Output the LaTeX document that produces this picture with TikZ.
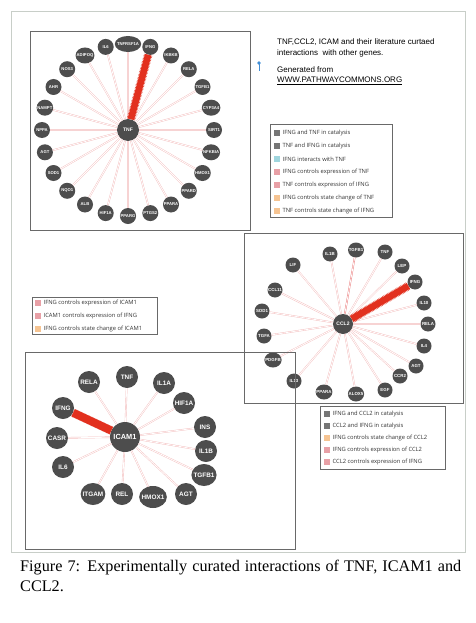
\documentclass[tikz,border=0pt]{standalone}
\usepackage{fontspec}
\setmainfont{Liberation Serif}
\setsansfont{Liberation Sans}
\newfontfamily\legendfont{Open Sans}
\usetikzlibrary{positioning,shapes.geometric}
\definecolor{nodegray}{RGB}{77,77,77}
\definecolor{linkpink}{RGB}{244,188,188}
\definecolor{linkred}{RGB}{234,118,118}
\definecolor{bandred}{RGB}{226,48,30}
\definecolor{boxgray}{RGB}{105,105,105}
\definecolor{catgray}{RGB}{118,118,118}
\definecolor{intcyan}{RGB}{160,214,222}
\definecolor{exppink}{RGB}{232,160,166}
\definecolor{stateorange}{RGB}{246,196,146}
\definecolor{pinblue}{RGB}{66,142,214}
\definecolor{framegray}{RGB}{200,206,200}

\begin{document}
\begin{tikzpicture}[x=1pt, y=-1pt,
    gene/.style={ellipse, fill=nodegray, text=white, inner xsep=-1.6pt, inner ysep=0.3pt,
                 minimum width=#1, minimum height=#1},
    genet/.style={gene=16pt, font=\sffamily\bfseries\fontsize{4.2}{4.2}\selectfont},
    genec/.style={gene=15pt, font=\sffamily\bfseries\fontsize{4.4}{4.4}\selectfont},
    genei/.style={gene=22pt, font=\sffamily\bfseries\fontsize{6.4}{6.4}\selectfont},
    link/.style={draw=linkpink, line width=0.4pt, double=white, double distance=0.8pt},
    band/.style={draw=bandred, line width=6.5pt,
                 preaction={draw=bandred!85, line width=8.5pt, dash pattern=on 0.6pt off 0.9pt}},
    panel/.style={draw=boxgray, line width=1pt},
    legbox/.style={draw=boxgray, line width=0.6pt},
    swatch/.style={rectangle, fill=#1, minimum size=5.5pt, inner sep=0pt},
    legtext/.style={font=\legendfont\fontsize{5.8}{6}\selectfont, text=black!80, inner sep=0pt, anchor=west},
    toptext/.style={font=\sffamily\fontsize{8}{9}\selectfont, anchor=west, inner sep=0pt}]

\fill[white] (0,0) rectangle (475,623);
\useasboundingbox (0,0) rectangle (475,623);
\draw[framegray, line width=0.6pt] (11,11) rectangle (465,552);

% TNF network
\draw[panel] (30,32) rectangle (250,230);
\node[gene=22pt, font=\sffamily\bfseries\fontsize{5}{5}\selectfont] (tnf) at (128,130) {TNF};
\node[genet] (il6t) at (105.7,46.9) {IL6};
\node[genet] (tnfrt) at (128,44) {TNFRSF1A};
\node[genet] (ifngt) at (150.3,46.9) {IFNG};
\node[genet] (ikbkb) at (171,55.5) {IKBKB};
\node[genet] (relat) at (188.8,69.2) {RELA};
\node[genet] (tgfbt) at (202.5,87) {TGFB1};
\node[genet] (cyp) at (211.1,107.7) {CYP3A4};
\node[genet] (sirt) at (214,130) {SIRT1};
\node[genet] (nfkb) at (211.1,152.3) {NFKBIA};
\node[genet] (hmoxt) at (202.5,173) {HMOX1};
\node[genet] (ppard) at (188.8,190.8) {PPARD};
\node[genet] (ppart) at (171,204.5) {PPARA};
\node[genet] (ptgs) at (150.3,213.1) {PTGS2};
\node[genet] (pparg) at (128,216) {PPARG};
\node[genet] (hift) at (105.7,213.1) {HIF1A};
\node[genet] (alb) at (85,204.5) {ALB};
\node[genet] (nqo) at (67.2,190.8) {NQO1};
\node[genet] (sodt) at (53.5,173) {SOD1};
\node[genet] (agtt) at (44.9,152.3) {AGT};
\node[genet] (nppa) at (42,130) {NPPA};
\node[genet] (nampt) at (44.9,107.7) {NAMPT};
\node[genet] (ahr) at (53.5,87) {AHR};
\node[genet] (nos) at (67.2,69.2) {NOS3};
\node[genet] (adipoq) at (85,55.5) {ADIPOQ};

\draw[link] (tnf) -- (il6t) (tnf) -- (tnfrt) (tnf) -- (ikbkb) (tnf) -- (relat) (tnf) -- (tgfbt) (tnf) -- (cyp);
\draw[link] (tnf) -- (sirt) (tnf) -- (nfkb) (tnf) -- (hmoxt) (tnf) -- (ppard) (tnf) -- (ppart) (tnf) -- (ptgs);
\draw[link] (tnf) -- (pparg) (tnf) -- (hift) (tnf) -- (alb) (tnf) -- (nqo) (tnf) -- (sodt) (tnf) -- (agtt);
\draw[link] (tnf) -- (nppa) (tnf) -- (nampt) (tnf) -- (ahr) (tnf) -- (nos) (tnf) -- (adipoq);
\draw[band] (tnf) -- (ifngt);

% note and pin
\node[toptext] (title1) at (277,42) {TNF,CCL2, ICAM and their literature curtaed};
\node[toptext] (title2) at (277,53) {interactions~ with other genes.};
\node[toptext] (src1) at (277,70) {Generated from};
\node[toptext] (src2) at (277,81) {\underline{WWW.PATHWAYCOMMONS.ORG}};
\draw[pinblue, line width=0.8pt] (259,64) -- (259,71);
\fill[pinblue] (259,63) circle (1.8pt);

% TNF legend
\draw[legbox] (270,124) rectangle (392,217);
\node[swatch=catgray] (sw1) at (277,133) {};
\node[swatch=catgray] (sw2) at (277,146) {};
\node[swatch=intcyan] (sw3) at (277,159) {};
\node[swatch=exppink] (sw4) at (277,172) {};
\node[swatch=exppink] (sw5) at (277,185) {};
\node[swatch=stateorange] (sw6) at (277,198) {};
\node[swatch=stateorange] (sw7) at (277,211) {};
\node[legtext, right=2.5pt of sw1] (lg1) {IFNG and TNF in catalysis};
\node[legtext, right=2.5pt of sw2] (lg2) {TNF and IFNG in catalysis};
\node[legtext, right=2.5pt of sw3] (lg3) {IFNG interacts with TNF};
\node[legtext, right=2.5pt of sw4] (lg4) {IFNG controls expression of TNF};
\node[legtext, right=2.5pt of sw5] (lg5) {TNF controls expression of IFNG};
\node[legtext, right=2.5pt of sw6] (lg6) {IFNG controls state change of TNF};
\node[legtext, right=2.5pt of sw7] (lg7) {TNF controls state change of IFNG};

% CCL2 network
\draw[panel] (244,233) rectangle (463,403);
\node[gene=20pt, font=\sffamily\bfseries\fontsize{5}{5}\selectfont] (ccl) at (343,324) {CCL2};
\node[genec] (lifc) at (293,265) {LIF};
\node[genec] (ccl11) at (275,290) {CCL11};
\node[genec] (il1bc) at (330,254) {IL1B};
\node[genec] (tgfbc) at (356,250) {TGFB1};
\node[genec] (tnfc) at (385,252) {TNF};
\node[genec] (lepc) at (402,266) {LEP};
\node[genec] (ifngc) at (415,282) {IFNG};
\node[genec] (il10c) at (424,303) {IL10};
\node[genec] (relac) at (428,324) {RELA};
\node[genec] (il4c) at (424,346) {IL4};
\node[genec] (agtc) at (416,366) {AGT};
\node[genec] (ccr2) at (400,376) {CCR2};
\node[genec] (egf) at (385,390) {EGF};
\node[genec] (alox) at (356,394) {ALOX5};
\node[genec] (pparc) at (324,392) {PPARA};
\node[genec] (il13) at (294,381) {IL13};
\node[genec] (pdgfb) at (273,360) {PDGFB};
\node[genec] (tgfa) at (264,336) {TGFA};
\node[genec] (sodc) at (262,311) {SOD1};

\draw[link] (ccl) -- (lifc) (ccl) -- (ccl11) (ccl) -- (il1bc) (ccl) -- (tnfc) (ccl) -- (lepc) (ccl) -- (il10c);
\draw[link] (ccl) -- (relac) (ccl) -- (il4c) (ccl) -- (agtc) (ccl) -- (ccr2) (ccl) -- (egf) (ccl) -- (alox);
\draw[link] (ccl) -- (pparc) (ccl) -- (il13) (ccl) -- (pdgfb) (ccl) -- (tgfa) (ccl) -- (sodc);
\draw[link, draw=linkred] (ccl) -- (tgfbc);
\draw[band] (ccl) -- (ifngc);

% ICAM1 legend
\draw[legbox] (32,297) rectangle (157,334);
\node[swatch=exppink] (swa) at (38,303) {};
\node[swatch=exppink] (swb) at (38,316) {};
\node[swatch=stateorange] (swc) at (38,329) {};
\node[legtext, right=2.5pt of swa] (lga) {IFNG controls expression of ICAM1};
\node[legtext, right=2.5pt of swb] (lgb) {ICAM1 controls expression of IFNG};
\node[legtext, right=2.5pt of swc] (lgc) {IFNG controls state change of ICAM1};

% ICAM1 network
\draw[panel] (25,352) rectangle (295,549);
\node[gene=30pt, font=\sffamily\bfseries\fontsize{7.4}{7.4}\selectfont] (icam) at (125,437) {ICAM1};
\node[genei] (relai) at (89,382) {RELA};
\node[genei] (tnfi) at (127,377) {TNF};
\node[genei] (il1a) at (164,383) {IL1A};
\node[genei] (hifi) at (184,403) {HIF1A};
\node[genei] (ins) at (205,427) {INS};
\node[genei] (il1bi) at (206,451) {IL1B};
\node[genei] (tgfbi) at (204,475) {TGFB1};
\node[genei] (agti) at (186,494) {AGT};
\node[genei] (hmoxi) at (153,497) {HMOX1};
\node[genei] (rel) at (122,494) {REL};
\node[genei] (itgam) at (93,494) {ITGAM};
\node[genei] (il6i) at (63,467) {IL6};
\node[genei] (casr) at (57,438) {CASR};
\node[genei] (ifngi) at (63,408) {IFNG};

\draw[link] (icam) -- (relai) (icam) -- (tnfi) (icam) -- (il1a) (icam) -- (hifi) (icam) -- (ins) (icam) -- (il1bi) (icam) -- (tgfbi);
\draw[link] (icam) -- (agti) (icam) -- (hmoxi) (icam) -- (rel) (icam) -- (itgam) (icam) -- (il6i) (icam) -- (casr);
\draw[band, line width=8pt] (icam) -- (ifngi);

% CCL2 legend
\draw[legbox] (320,406) rectangle (445,469);
\node[swatch=catgray] (swp) at (327,414) {};
\node[swatch=catgray] (swq) at (327,426) {};
\node[swatch=stateorange] (swr) at (327,438) {};
\node[swatch=exppink] (sws) at (327,450) {};
\node[swatch=exppink] (swt) at (327,462) {};
\node[legtext, right=2.5pt of swp] (lgp) {IFNG and CCL2 in catalysis};
\node[legtext, right=2.5pt of swq] (lgq) {CCL2 and IFNG in catalysis};
\node[legtext, right=2.5pt of swr] (lgr) {IFNG controls state change of CCL2};
\node[legtext, right=2.5pt of sws] (lgs) {IFNG controls expression of CCL2};
\node[legtext, right=2.5pt of swt] (lgt) {CCL2 controls expression of IFNG};

% caption
\node[anchor=west, inner sep=0pt, font=\fontsize{16.2}{19}\selectfont] (cap1) at (20,568)
  {\makebox[441pt][s]{Figure 7: Experimentally curated interactions of TNF, ICAM1 and}};
\node[anchor=west, inner sep=0pt, font=\fontsize{16.2}{19}\selectfont] (cap2) at (20,586) {CCL2.};
\end{tikzpicture}
\end{document}
